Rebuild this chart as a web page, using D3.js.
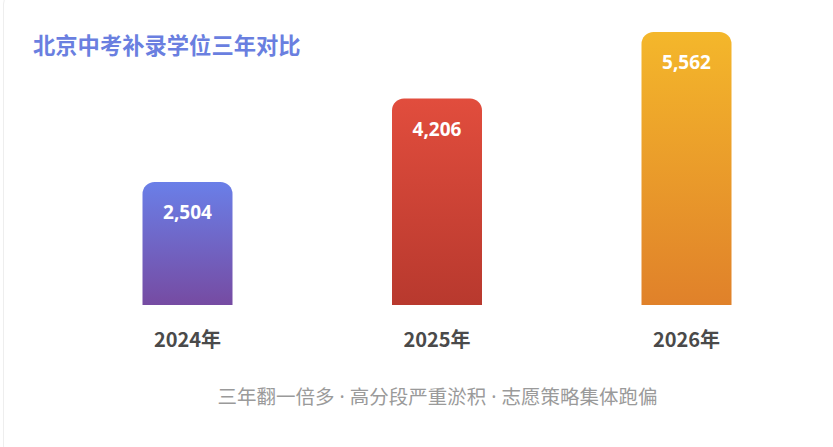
<!DOCTYPE html>
<html>
<head>
<meta charset="utf-8">
<title>北京中考补录学位三年对比</title>
<script src="https://d3js.org/d3.v7.min.js"></script>
<style>
  html, body { margin: 0; padding: 0; background: #fff; }
  svg { display: block; font-family: "Noto Sans CJK SC", "Noto Sans", sans-serif; }
</style>
</head>
<body>
<svg id="chart" width="833" height="447"></svg>
<script>
// data
var years = ["2024年", "2025年", "2026年"];
var seats = [2504, 4206, 5562];
var colorTop = ["#6a7fe8", "#e14d3d", "#f4b72b"];
var colorBottom = ["#764ba2", "#b8392e", "#e0812a"];
var title = "北京中考补录学位三年对比";
var note = "三年翻一倍多 · 高分段严重淤积 · 志愿策略集体跑偏";

var svg = d3.select("#chart");
var W = 833, H = 447;

// faint card edge
svg.append("rect")
  .attr("x", 3.5).attr("y", -10)
  .attr("width", 900).attr("height", 470)
  .attr("rx", 14)
  .attr("fill", "#fff")
  .attr("stroke", "#eeeeee");

var base = 305, barW = 90, r = 12;
var x = d3.scalePoint().domain(years).range([187.5, 686.5]);
var y = d3.scaleLinear().domain([0, d3.max(seats)]).range([base, 32]);

var defs = svg.append("defs");
years.forEach(function(yr, i) {
  var g = defs.append("linearGradient")
    .attr("id", "g" + i)
    .attr("x1", 0).attr("y1", 0).attr("x2", 0).attr("y2", 1);
  g.append("stop").attr("offset", "0%").attr("stop-color", colorTop[i]);
  g.append("stop").attr("offset", "100%").attr("stop-color", colorBottom[i]);
});

// bar path: rounded top corners, square bottom
function barPath(x0, top, w, bottom) {
  var p = d3.path();
  p.moveTo(x0, bottom);
  p.lineTo(x0, top + r);
  p.arcTo(x0, top, x0 + r, top, r);
  p.lineTo(x0 + w - r, top);
  p.arcTo(x0 + w, top, x0 + w, top + r, r);
  p.lineTo(x0 + w, bottom);
  p.closePath();
  return p.toString();
}

var rows = years.map(function(yr, i) { return {year: yr, v: seats[i], i: i}; });

svg.selectAll("path.bar")
  .data(rows)
  .join("path")
  .attr("class", "bar")
  .attr("d", function(d) { return barPath(x(d.year) - barW / 2, y(d.v), barW, base); })
  .attr("fill", function(d) { return "url(#g" + d.i + ")"; });

var fmt = d3.format(",");
svg.selectAll("text.val")
  .data(rows)
  .join("text")
  .attr("class", "val")
  .attr("x", function(d) { return x(d.year); })
  .attr("y", function(d) { return y(d.v) + 37; })
  .attr("text-anchor", "middle")
  .attr("fill", "#fff")
  .attr("font-size", 19)
  .attr("font-weight", 700)
  .attr("font-family", "'Open Sans', 'Noto Sans', sans-serif")
  .text(function(d) { return fmt(d.v); });

svg.selectAll("text.cat")
  .data(rows)
  .join("text")
  .attr("class", "cat")
  .attr("x", function(d) { return x(d.year); })
  .attr("y", 347)
  .attr("text-anchor", "middle")
  .attr("fill", "#4a4a4a")
  .attr("font-size", 20)
  .attr("font-weight", 600)
  .text(function(d) { return d.year; });

svg.append("text")
  .attr("x", 33).attr("y", 54)
  .attr("fill", "#6a7fe0")
  .attr("font-size", 22.3)
  .attr("font-weight", 700)
  .text(title);

svg.append("text")
  .attr("x", 437.5).attr("y", 404)
  .attr("text-anchor", "middle")
  .attr("fill", "#9a9a9a")
  .attr("font-size", 19.5)
  .attr("font-family", "'Noto Sans', 'Noto Sans CJK SC', sans-serif")
  .text(note);
</script>
</body>
</html>
